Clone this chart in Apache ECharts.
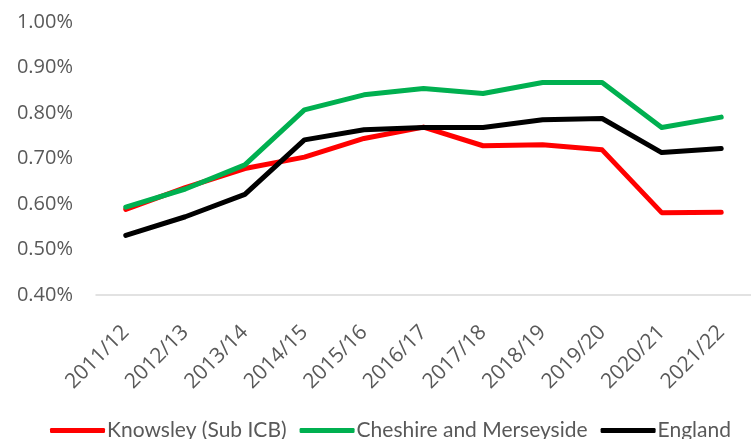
<!DOCTYPE html>
<html>
<head>
<meta charset="utf-8">
<script src="https://cdn.jsdelivr.net/npm/echarts@6/dist/echarts.min.js"></script>
<style>html,body{margin:0;padding:0;background:#fff;}#c{width:751px;height:439px;}</style>
</head>
<body>
<div id="c"></div>
<script>
var categories = ['2011/12','2012/13','2013/14','2014/15','2015/16','2016/17','2017/18','2018/19','2019/20','2020/21','2021/22'];
var knowsley = [0.588,0.636,0.678,0.703,0.744,0.769,0.728,0.730,0.719,0.581,0.582];
var cheshire = [0.593,0.633,0.686,0.807,0.840,0.854,0.843,0.867,0.867,0.768,0.791];
var england = [0.531,0.572,0.621,0.741,0.763,0.768,0.768,0.785,0.788,0.713,0.722];
var seriesNames = ['Knowsley (Sub ICB)','Cheshire and Merseyside','England'];
var colors = ['#ff0000','#00b050','#000000'];

var font = '"Open Sans", "Noto Sans", sans-serif';
var legendFont = 'Lato, "Open Sans", sans-serif';
var chart = echarts.init(document.getElementById('c'), null, {renderer:'canvas'});
function mk(name, data, color){
  return {name:name, type:'line', data:data, symbol:'none', color:color,
    lineStyle:{color:color, width:5, cap:'round', join:'round'}, animation:false};
}
chart.setOption({
  animation:false,
  color: colors,
  grid:{left:96, right:-10, top:22, bottom:144, containLabel:false},
  legend:{
    left:45, top:415, itemWidth:55, itemHeight:5, itemGap:13, icon:'roundRect',
    textStyle:{color:'#595959', fontSize:21, fontFamily:legendFont, padding:[0,0,0,-3]},
    data: seriesNames
  },
  xAxis:{
    type:'category', data:categories, boundaryGap:true,
    axisLine:{lineStyle:{color:'#d9d9d9', width:1.5}},
    axisTick:{show:false},
    axisLabel:{rotate:45, margin:34, color:'#595959', fontSize:21, fontFamily:font, interval:0}
  },
  yAxis:{
    type:'value', min:0.4, max:1.0, interval:0.1,
    axisLine:{show:false}, axisTick:{show:false}, splitLine:{show:false},
    axisLabel:{color:'#595959', fontSize:20, fontFamily:font, margin:23,
      formatter:function(v){return v.toFixed(2)+'%';}}
  },
  series:[mk(seriesNames[0], knowsley, colors[0]), mk(seriesNames[1], cheshire, colors[1]), mk(seriesNames[2], england, colors[2])]
});
</script>
</body>
</html>
